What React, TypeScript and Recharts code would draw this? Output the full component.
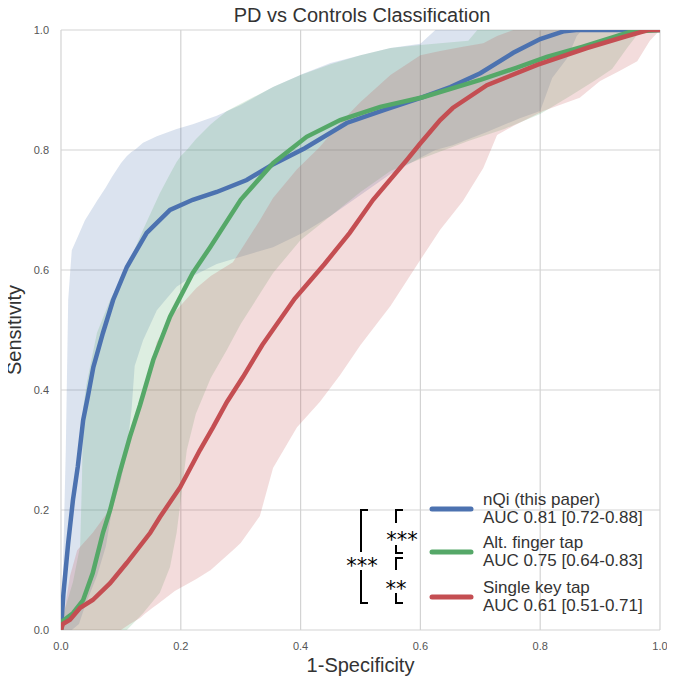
import React from 'react';
import { ComposedChart, Area, Line, XAxis, YAxis, CartesianGrid, Label } from 'recharts';

// ROC curves (x = 1-specificity, y = sensitivity)
const nqiX = [0, 0.004, 0.012, 0.02, 0.028, 0.037, 0.045, 0.054, 0.07, 0.087, 0.11, 0.143, 0.182, 0.22, 0.26, 0.31, 0.352, 0.407, 0.477, 0.54, 0.604, 0.65, 0.7, 0.755, 0.8, 0.84, 0.86, 1];
const nqiY = [0, 0.06, 0.145, 0.217, 0.272, 0.35, 0.39, 0.438, 0.495, 0.55, 0.605, 0.662, 0.7, 0.717, 0.73, 0.75, 0.775, 0.803, 0.845, 0.867, 0.888, 0.905, 0.928, 0.962, 0.985, 0.998, 1, 1];

const altX = [0, 0.003, 0.02, 0.037, 0.053, 0.07, 0.082, 0.098, 0.115, 0.132, 0.154, 0.182, 0.22, 0.249, 0.3, 0.354, 0.41, 0.466, 0.533, 0.604, 0.7, 0.76, 0.811, 0.87, 0.922, 0.95, 1];
const altY = [0, 0.015, 0.028, 0.05, 0.095, 0.162, 0.2, 0.262, 0.322, 0.375, 0.45, 0.522, 0.595, 0.638, 0.717, 0.778, 0.822, 0.85, 0.872, 0.888, 0.917, 0.937, 0.955, 0.972, 0.988, 0.997, 1];

const keyX = [0, 0.003, 0.015, 0.032, 0.053, 0.082, 0.11, 0.149, 0.165, 0.199, 0.232, 0.254, 0.277, 0.304, 0.336, 0.39, 0.44, 0.482, 0.521, 0.577, 0.599, 0.633, 0.654, 0.711, 0.795, 0.878, 0.945, 0.98, 1];
const keyY = [0, 0.01, 0.017, 0.037, 0.05, 0.078, 0.112, 0.162, 0.188, 0.238, 0.3, 0.338, 0.38, 0.422, 0.475, 0.552, 0.61, 0.662, 0.717, 0.783, 0.81, 0.85, 0.87, 0.908, 0.942, 0.97, 0.99, 1, 1];

// confidence bands
const nqiBandX = [0, 0.003, 0.008, 0.012, 0.018, 0.03, 0.04, 0.06, 0.075, 0.085, 0.1, 0.11, 0.118, 0.123, 0.137, 0.16, 0.193, 0.22, 0.26, 0.3, 0.354, 0.404, 0.45, 0.5, 0.55, 0.6, 0.625, 0.654, 0.711, 0.766, 0.8, 0.82, 0.845, 0.861, 0.87, 1];
const nqiBandLo = [0, 0, 0, 0, 0, 0.01, 0.04, 0.09, 0.14, 0.2, 0.25, 0.3, 0.37, 0.44, 0.483, 0.533, 0.572, 0.59, 0.61, 0.622, 0.638, 0.662, 0.69, 0.725, 0.76, 0.787, 0.8, 0.808, 0.83, 0.853, 0.865, 0.92, 0.953, 0.99, 1, 1];
const nqiBandHi = [0, 0.09, 0.3, 0.55, 0.633, 0.66, 0.683, 0.715, 0.738, 0.755, 0.778, 0.79, 0.797, 0.8, 0.812, 0.823, 0.835, 0.843, 0.857, 0.875, 0.905, 0.927, 0.945, 0.958, 0.97, 0.977, 1, 1, 1, 1, 1, 1, 1, 1, 1, 1];

const altBandX = [0, 0.005, 0.02, 0.032, 0.035, 0.037, 0.043, 0.06, 0.082, 0.11, 0.137, 0.165, 0.182, 0.193, 0.2, 0.21, 0.225, 0.25, 0.277, 0.3, 0.354, 0.4, 0.45, 0.5, 0.55, 0.6, 0.68, 0.695, 0.74, 0.8, 0.85, 0.89, 0.92, 0.945, 0.962, 0.97, 1];
const altBandLo = [0, 0, 0, 0, 0, 0, 0, 0, 0, 0, 0.028, 0.062, 0.105, 0.162, 0.217, 0.3, 0.36, 0.42, 0.467, 0.51, 0.595, 0.65, 0.69, 0.73, 0.765, 0.785, 0.815, 0.82, 0.835, 0.86, 0.89, 0.915, 0.935, 0.97, 0.992, 1, 1];
const altBandHi = [0, 0.03, 0.08, 0.14, 0.25, 0.37, 0.412, 0.495, 0.55, 0.605, 0.667, 0.728, 0.76, 0.78, 0.79, 0.8, 0.818, 0.843, 0.865, 0.877, 0.905, 0.925, 0.943, 0.958, 0.97, 0.975, 0.982, 1, 1, 1, 1, 1, 1, 1, 1, 1, 1];

const keyBandX = [0, 0.007, 0.015, 0.027, 0.053, 0.077, 0.1, 0.115, 0.132, 0.14, 0.154, 0.16, 0.19, 0.226, 0.25, 0.287, 0.3, 0.332, 0.354, 0.394, 0.432, 0.466, 0.5, 0.55, 0.6, 0.633, 0.671, 0.705, 0.728, 0.755, 0.805, 0.866, 0.9, 0.933, 0.962, 0.983, 1];
const keyBandLo = [0, 0, 0, 0, 0, 0, 0, 0.01, 0.02, 0.027, 0.038, 0.042, 0.065, 0.085, 0.1, 0.133, 0.145, 0.19, 0.27, 0.338, 0.38, 0.425, 0.475, 0.54, 0.617, 0.667, 0.715, 0.77, 0.825, 0.84, 0.865, 0.887, 0.915, 0.932, 0.948, 0.982, 1];
const keyBandHi = [0, 0.04, 0.09, 0.133, 0.162, 0.195, 0.27, 0.315, 0.367, 0.4, 0.455, 0.48, 0.53, 0.57, 0.59, 0.613, 0.633, 0.683, 0.72, 0.768, 0.805, 0.845, 0.88, 0.925, 0.958, 0.965, 0.972, 0.978, 0.99, 1, 1, 1, 1, 1, 1, 1, 1];

const ticks = [0, 0.2, 0.4, 0.6, 0.8, 1.0];

const BLUE = '#4C72B0';
const GREEN = '#55A868';
const RED = '#C44E52';
const FONT = '"Liberation Sans", Arial, sans-serif';

const curve = (xs: number[], ys: number[]) => xs.map((x, i) => ({ x, y: ys[i] }));
const band = (xs: number[], lo: number[], hi: number[]) => xs.map((x, i) => ({ x, range: [lo[i], hi[i]] }));

const series = [
    { name: 'nQi (this paper)', auc: 'AUC 0.81 [0.72-0.88]', color: BLUE, line: curve(nqiX, nqiY), band: band(nqiBandX, nqiBandLo, nqiBandHi) },
    { name: 'Alt. finger tap', auc: 'AUC 0.75 [0.64-0.83]', color: GREEN, line: curve(altX, altY), band: band(altBandX, altBandLo, altBandHi) },
    { name: 'Single key tap', auc: 'AUC 0.61 [0.51-0.71]', color: RED, line: curve(keyX, keyY), band: band(keyBandX, keyBandLo, keyBandHi) },
];

const Overlay: React.FC = () => {
    const legendY = [509, 552, 597];
    const br = '#000';
    return (
        <svg width={675} height={686} style={{ position: 'absolute', left: 0, top: 0, pointerEvents: 'none' }}>
            <text x={362} y={22} textAnchor="middle" fontFamily={FONT} fontSize={20} fill="#333">PD vs Controls Classification</text>

            {series.map((s, i) => (
                <g key={s.name}>
                    <line x1={432} x2={471} y1={legendY[i]} y2={legendY[i]} stroke={s.color} strokeWidth={5} strokeLinecap="round" />
                    <text x={483} y={legendY[i] - 4} fontFamily={FONT} fontSize={17} fill="#333">{s.name}</text>
                    <text x={483} y={legendY[i] + 14} fontFamily={FONT} fontSize={17} fill="#333">{s.auc}</text>
                </g>
            ))}

            {/* significance brackets */}
            <g stroke={br} strokeWidth={2} fill="none">
                <polyline points="368,510 361,510 361,552" />
                <polyline points="361,570 361,603 368,603" />
                <polyline points="403,510 396,510 396,523" />
                <polyline points="396,545 396,553 403,553" />
                <polyline points="403,558 396,558 396,570" />
                <polyline points="396,593 396,603 403,603" />
            </g>
            <g fontFamily='"DejaVu Sans", sans-serif' fontSize={21} fill={br}>
                <text x={362} y={573} textAnchor="middle">***</text>
                <text x={402} y={547} textAnchor="middle">***</text>
                <text x={396} y={596} textAnchor="middle">**</text>
            </g>
        </svg>
    );
};

const YTitle = (props: any) => {
    const { viewBox } = props;
    const cy = viewBox.y + viewBox.height / 2;
    return (
        <text x={21} y={cy} transform={`rotate(-90 21 ${cy})`} textAnchor="middle" fontFamily={FONT} fontSize={20} fill="#333">
            Sensitivity
        </text>
    );
};

export default function App() {
    return (
        <div style={{ position: 'relative', width: 675, height: 686, margin: -8, background: '#fff' }}>
            <ComposedChart width={675} height={686} margin={{ top: 30, right: 15, left: 0, bottom: 0 }}>
                <CartesianGrid stroke="#d3d3d3" strokeWidth={1.2} />
                <XAxis
                    type="number"
                    dataKey="x"
                    domain={[0, 1]}
                    ticks={ticks}
                    tickFormatter={v => v.toFixed(1)}
                    axisLine={false}
                    tickLine={false}
                    height={56}
                    tick={{ fontSize: 11, fill: '#555', fontFamily: FONT }}
                    tickMargin={6}
                    allowDataOverflow
                >
                    <Label value="1-Specificity" position="insideBottom" offset={14} style={{ fontSize: 20, fill: '#333', fontFamily: FONT }} />
                </XAxis>
                <YAxis
                    type="number"
                    domain={[0, 1]}
                    ticks={ticks}
                    tickFormatter={v => v.toFixed(1)}
                    axisLine={false}
                    tickLine={false}
                    width={61}
                    tick={{ fontSize: 11, fill: '#555', fontFamily: FONT }}
                    tickMargin={6}
                    allowDataOverflow
                >
                    <Label content={YTitle} />
                </YAxis>
                {series.map(s => (
                    <Area
                        key={s.name + '-band'}
                        data={s.band}
                        dataKey="range"
                        type="linear"
                        stroke="none"
                        fill={s.color}
                        fillOpacity={0.2}
                        isAnimationActive={false}
                    />
                ))}
                {series.map(s => (
                    <Line
                        key={s.name}
                        data={s.line}
                        dataKey="y"
                        type="linear"
                        stroke={s.color}
                        strokeWidth={4.5}
                        dot={false}
                        isAnimationActive={false}
                    />
                ))}
            </ComposedChart>
            <Overlay />
        </div>
    );
}
